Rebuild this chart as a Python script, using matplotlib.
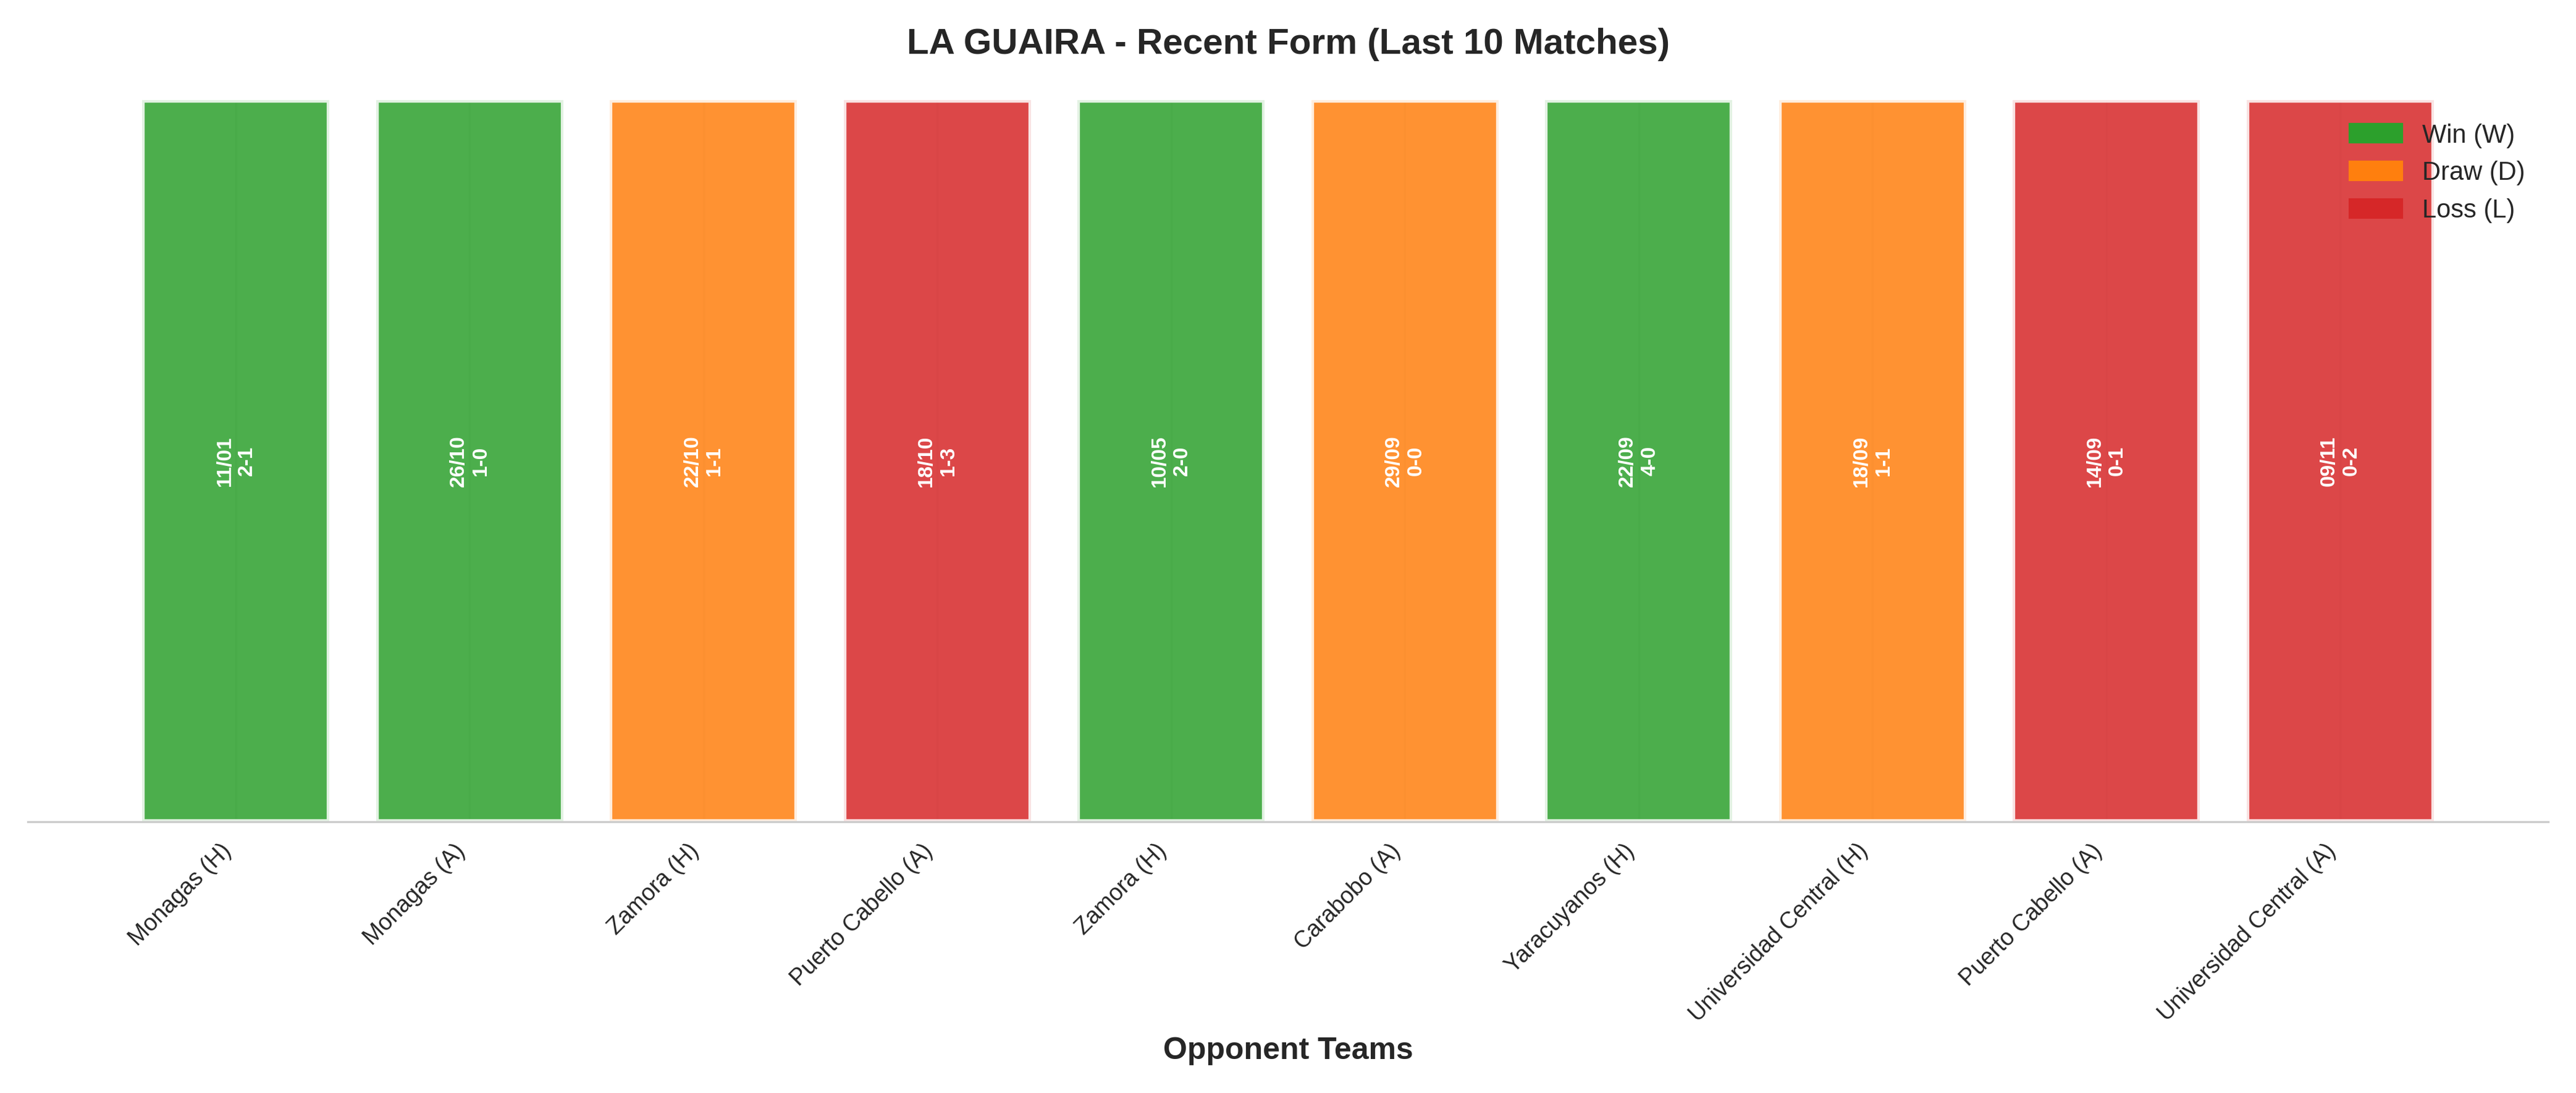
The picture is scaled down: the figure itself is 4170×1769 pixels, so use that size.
import matplotlib
matplotlib.use("Agg")
import matplotlib.pyplot as plt
import seaborn as sns
from matplotlib.patches import Patch

sns.set_style("whitegrid")
plt.rcParams['font.family'] = ['Liberation Sans', 'DejaVu Sans']

opponents = ["Monagas (H)", "Monagas (A)", "Zamora (H)", "Puerto Cabello (A)", "Zamora (H)",
             "Carabobo (A)", "Yaracuyanos (H)", "Universidad Central (H)", "Puerto Cabello (A)",
             "Universidad Central (A)"]
results = ["W", "W", "D", "L", "W", "D", "W", "D", "L", "L"]
dates = ["11/01", "26/10", "22/10", "18/10", "10/05", "29/09", "22/09", "18/09", "14/09", "09/11"]
scores = ["2-1", "1-0", "1-1", "1-3", "2-0", "0-0", "4-0", "1-1", "0-1", "0-2"]
colors = {"W": "#2ca02c", "D": "#ff7f0e", "L": "#d62728"}

fig, ax = plt.subplots(figsize=(13.9, 5.897), dpi=300)
x = list(range(len(opponents)))
ax.bar(x, [1]*len(x), color=[colors[r] for r in results], alpha=0.85,
       edgecolor="white", linewidth=2, width=0.8)
for i in x:
    ax.text(i, 0.5, f"{dates[i]}\n{scores[i]}", rotation=90, ha="center", va="center",
            color="white", fontsize=8, fontweight="bold")
ax.set_xticks(x)
ax.set_xticklabels(opponents, rotation=45, ha="right", fontsize=9)
ax.set_yticks([])
ax.set_ylim(0, 1.0)
ax.set_xlabel("Opponent Teams", fontsize=12, fontweight="bold")
ax.set_title("LA GUAIRA - Recent Form (Last 10 Matches)", fontsize=14, fontweight="bold", pad=18)
ax.grid(axis="y", visible=False)
ax.grid(axis="x", alpha=0.3)
for s in ["top", "left", "right"]:
    ax.spines[s].set_visible(False)
ax.spines["bottom"].set_color("#cccccc")
handles = [Patch(color=colors["W"], label="Win (W)"), Patch(color=colors["D"], label="Draw (D)"),
           Patch(color=colors["L"], label="Loss (L)")]
ax.legend(handles=handles, loc="upper right", fontsize=10, frameon=False)
plt.tight_layout()
fig.savefig("out.png", dpi=300)
